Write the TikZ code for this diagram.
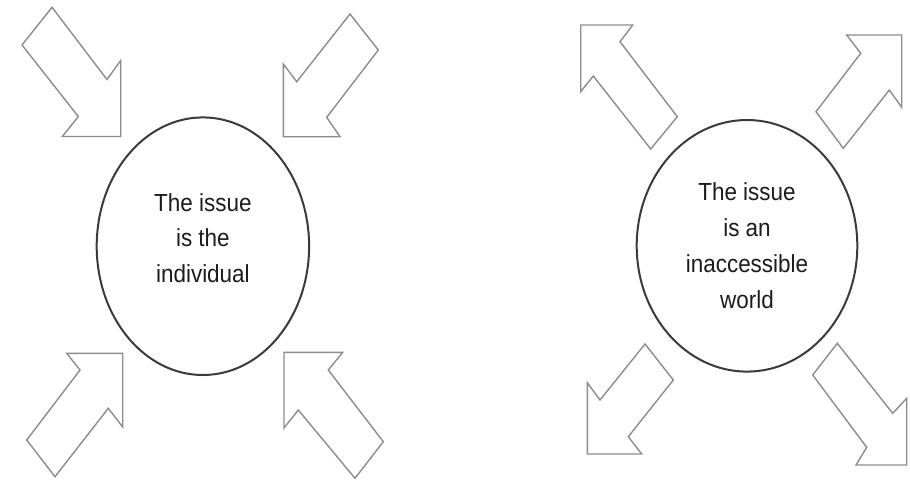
\documentclass[tikz,border=0pt]{standalone}
\usepackage{fontspec}
\usepackage{tikz}
\usepackage{xcolor}
\usetikzlibrary{shapes.geometric,positioning}
\newfontfamily\issuefont[FakeStretch=0.91]{Liberation Sans}
\definecolor{Ring}{HTML}{3A3A3A}
\definecolor{Outline}{HTML}{8C8C8C}
\definecolor{Ink}{HTML}{1C1C1C}

\begin{document}
\begin{tikzpicture}[
  x=0.5pt,y=-0.5pt,
  issue/.style={ellipse,draw=Ring,line width=1pt,inner sep=0pt},
  issuetext/.style={align=center,text=Ink,inner sep=0pt,font=\issuefont\fontsize{12.35pt}{17.9pt}\selectfont},
  blockarrow/.style={draw=Outline,line width=0.7pt,line join=miter,fill=white}
]
\useasboundingbox (0,0) rectangle (910,479);
% left: arrows pointing in
\node[issue,minimum width=106.2pt,minimum height=128.8pt] (indiv) at (202.9,246.2) {};
\node[issuetext] (indivtext) at ([yshift=4.1pt]indiv.center) {The issue\\is the\\individual};
\draw[blockarrow] (22,45) -- (52,7.3) -- (107,79.5) -- (120.7,60.5) -- (120.7,136.5) -- (62.3,136.5) -- (78.3,116.5) -- cycle;
\draw[blockarrow] (350,14) -- (378.3,50) -- (326.7,117.3) -- (340,136.7) -- (283.3,136.7) -- (283.3,64) -- (296.7,81.7) -- cycle;
\draw[blockarrow] (26.7,440) -- (80,370) -- (66.7,353.3) -- (122.7,353.3) -- (122.7,427) -- (108.3,408.3) -- (55,476.7) -- cycle;
\draw[blockarrow] (383.3,441.7) -- (328.3,370) -- (342.7,352.3) -- (284,352.3) -- (284,428) -- (298.3,410) -- (355,478.3) -- cycle;
% right: arrows pointing out
\node[issue,minimum width=110.3pt,minimum height=125.8pt] (world) at (747,245.8) {};
\node[issuetext] (worldtext) at (world.center) {The issue\\is an\\inaccessible\\world};
\draw[blockarrow] (580.7,25) -- (632.7,25) -- (620,41.7) -- (677.3,116.7) -- (650.7,149) -- (593.3,76) -- (580.7,91.7) -- cycle;
\draw[blockarrow] (901.7,35) -- (846.7,35) -- (860.7,53.3) -- (816,111.7) -- (843.3,148.3) -- (889.3,90) -- (901.7,107.3) -- cycle;
\draw[blockarrow] (587.3,454) -- (641.7,454) -- (628.3,436.7) -- (673.3,380) -- (645,344) -- (600,400) -- (587.3,382.7) -- cycle;
\draw[blockarrow] (906.7,465) -- (856,465) -- (866.7,447.3) -- (812.7,375) -- (837.3,343.3) -- (892.7,413.3) -- (906.7,398.3) -- cycle;
\end{tikzpicture}
\end{document}
